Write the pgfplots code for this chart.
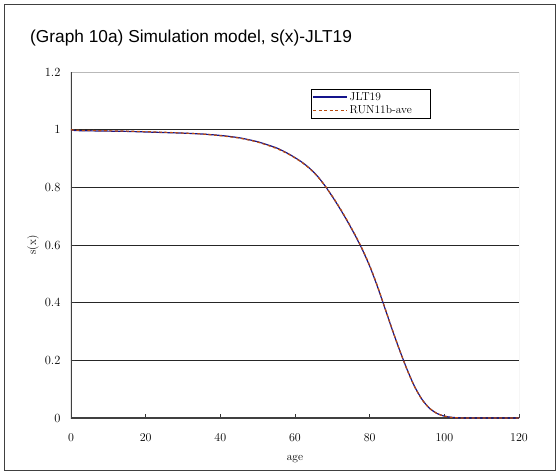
\documentclass[border=0pt]{standalone}
\usepackage{pgfplots}
\usepackage{pgfplotstable}
\usepackage{fontspec}
\pgfplotsset{compat=1.18}
\newfontfamily\titlefont{Liberation Sans}

\definecolor{jltblue}{RGB}{20,20,140}
\definecolor{runorange}{RGB}{185,75,15}

% survival function s(x), life table JLT19
\pgfplotstableread{
age s
0 1.000
1 0.997
5 0.996
10 0.995
15 0.994
20 0.992
25 0.990
30 0.988
35 0.985
40 0.980
45 0.972
50 0.958
55 0.937
58 0.918
60 0.903
62 0.886
64 0.865
66 0.839
68 0.806
70 0.768
72 0.727
74 0.683
76 0.636
78 0.585
80 0.527
82 0.459
84 0.384
86 0.308
88 0.236
90 0.169
92 0.110
94 0.065
96 0.034
98 0.016
100 0.0065
102 0.0022
104 0.0006
106 0.0001
108 0
120 0
}\jlt

% simulated survival, average of RUN11b
\pgfplotstableread{
age s
0 1.000
1 0.998
5 0.997
10 0.996
15 0.995
20 0.993
25 0.991
30 0.988
35 0.985
40 0.979
45 0.971
50 0.957
55 0.935
58 0.917
60 0.902
62 0.885
64 0.864
66 0.838
68 0.806
70 0.769
72 0.729
74 0.685
76 0.638
78 0.587
80 0.529
82 0.461
84 0.385
86 0.309
88 0.236
90 0.168
92 0.109
94 0.064
96 0.034
98 0.016
100 0.0065
102 0.0020
104 0.0005
106 0
120 0
}\runave

\begin{document}
\begin{tikzpicture}
\useasboundingbox (0,0) rectangle (560pt,475pt);
\draw[black!75, line width=0.9pt] (4.5pt,4.5pt) rectangle (555.5pt,471pt);
\node[anchor=west, inner sep=0pt, font=\titlefont\fontsize{17.3}{20}\selectfont]
  at (30pt,437pt) {(Graph 10a) Simulation model, s(x)-JLT19};
\begin{axis}[
  at={(71pt,57pt)}, anchor=south west,
  width=448pt, height=346pt, scale only axis,
  xmin=0, xmax=120, ymin=0, ymax=1.2,
  xtick={0,20,...,120},
  ytick={0,0.2,0.4,0.6,0.8,1},
  extra y ticks={1.2},
  extra y tick style={grid=none},
  yticklabels={0,0.2,0.4,0.6,0.8,1},
  extra y tick labels={1.2},
  ymajorgrids,
  grid style={black!85, line width=0.8pt},
  axis line style={draw=none},
  tick align=inside,
  major tick length=4pt,
  tick style={black!80, line width=0.8pt},
  xtick pos=bottom, ytick pos=left,
  tick label style={font=\fontsize{12.5}{14}\selectfont},
  xticklabel style={yshift=-12pt},
  yticklabel style={xshift=-7pt},
  xlabel={age},
  ylabel={s(x)},
  label style={font=\fontsize{11.5}{13}\selectfont},
  xlabel style={at={(axis description cs:0.5,-0.118)}, anchor=center},
  ylabel style={at={(axis description cs:-0.085,0.5)}, anchor=center, rotate=0},
  legend style={at={(rel axis cs:0.536,0.951)}, anchor=north west,
    draw=black, line width=0.8pt, fill=white,
    font=\fontsize{11.5}{13}\selectfont,
    inner sep=1pt, row sep=0pt},
  legend cell align=left,
  legend image code/.code={\draw[#1] (0pt,0pt) -- (34pt,0pt);},
]
\draw[gray!55, line width=1pt] (rel axis cs:0,1) -- (rel axis cs:1,1) -- (rel axis cs:1,0);
\draw[black!75, line width=1.8pt] (rel axis cs:0,1) -- (rel axis cs:0,0) -- (rel axis cs:1,0);
\addplot[jltblue, line width=1.2pt, smooth, tension=0.4] table[x=age, y=s] {\jlt};
\addlegendentry{\makebox[78pt][l]{JLT19}}
\addplot[runorange, line width=1.2pt, dash pattern=on 3pt off 2.5pt, smooth, tension=0.4] table[x=age, y=s] {\runave};
\addlegendentry{\makebox[78pt][l]{RUN11b-ave}}
\end{axis}
\end{tikzpicture}
\end{document}
